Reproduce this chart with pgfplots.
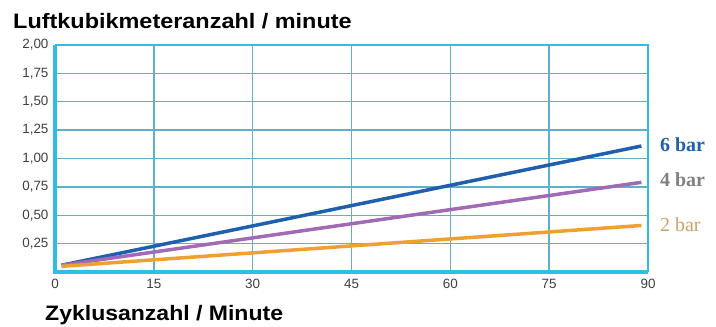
\documentclass[border=0pt]{standalone}
\usepackage{pgfplots}
\pgfplotsset{compat=1.18}
\usepackage{fontspec}
\setmainfont{Liberation Sans}
\newfontfamily\serifb{Liberation Serif}
\definecolor{framec}{HTML}{2EC0E4}
\definecolor{gridc}{HTML}{5FB0CC}
\definecolor{six}{HTML}{1F5FAE}
\definecolor{four}{HTML}{A06AB4}
\definecolor{two}{HTML}{F0A030}
\definecolor{twolab}{HTML}{D0A060}
\definecolor{ticklab}{HTML}{404040}
\begin{document}
\begin{tikzpicture}[x=1bp,y=1bp]
\useasboundingbox (0,0) rectangle (716,326);
\begin{axis}[at={(55bp,54bp)}, anchor=south west, scale only axis,
  width=593bp, height=227bp,
  xmin=0, xmax=90, ymin=0, ymax=2,
  xtick={0,15,...,90}, ytick={0.25,0.5,...,2},
  grid=major, major grid style={gridc, line width=1.5bp},
  axis line style={draw=none}, tick style={draw=none},
  /pgf/number format/assume math mode=true,
  yticklabel={\pgfmathprintnumber[fixed, fixed zerofill, precision=2, use comma]{\tick}},
  xticklabel style={font=\fontsize{13.5}{13.5}\selectfont, text=ticklab, yshift=-4bp},
  yticklabel style={font=\fontsize{13.5}{13.5}\selectfont, text=ticklab, xshift=-3bp},
  clip=false]
\addplot[six, line width=3.5bp] coordinates {(1,0.06) (89,1.11)};
\addplot[four, line width=3.5bp] coordinates {(1,0.06) (89,0.79)};
\addplot[two, line width=3.5bp] coordinates {(1,0.05) (89,0.41)};
\draw[framec, line width=1.5bp] (rel axis cs:0,1) -- (rel axis cs:1,1) -- (rel axis cs:1,0);
\draw[framec, line width=4bp] (rel axis cs:0,1) -- (rel axis cs:0,0) -- (rel axis cs:1,0);
\end{axis}
\node[anchor=base west, inner sep=0] at (13,298) {\scalebox{1.12}[1]{\fontsize{21}{21}\selectfont\bfseries Luftkubikmeteranzahl / minute}};
\node[anchor=base west, inner sep=0] at (45,6) {\scalebox{1.1}[1]{\fontsize{21}{21}\selectfont\bfseries Zyklusanzahl / Minute}};
\node[anchor=west, inner sep=0, text=six] at (660,181) {\serifb\fontsize{20}{20}\selectfont\bfseries 6 bar};
\node[anchor=west, inner sep=0, text=gray] at (660,146) {\serifb\fontsize{20}{20}\selectfont\bfseries 4 bar};
\node[anchor=west, inner sep=0, text=twolab] at (660,101) {\serifb\fontsize{20}{20}\selectfont 2 bar};
\end{tikzpicture}
\end{document}
